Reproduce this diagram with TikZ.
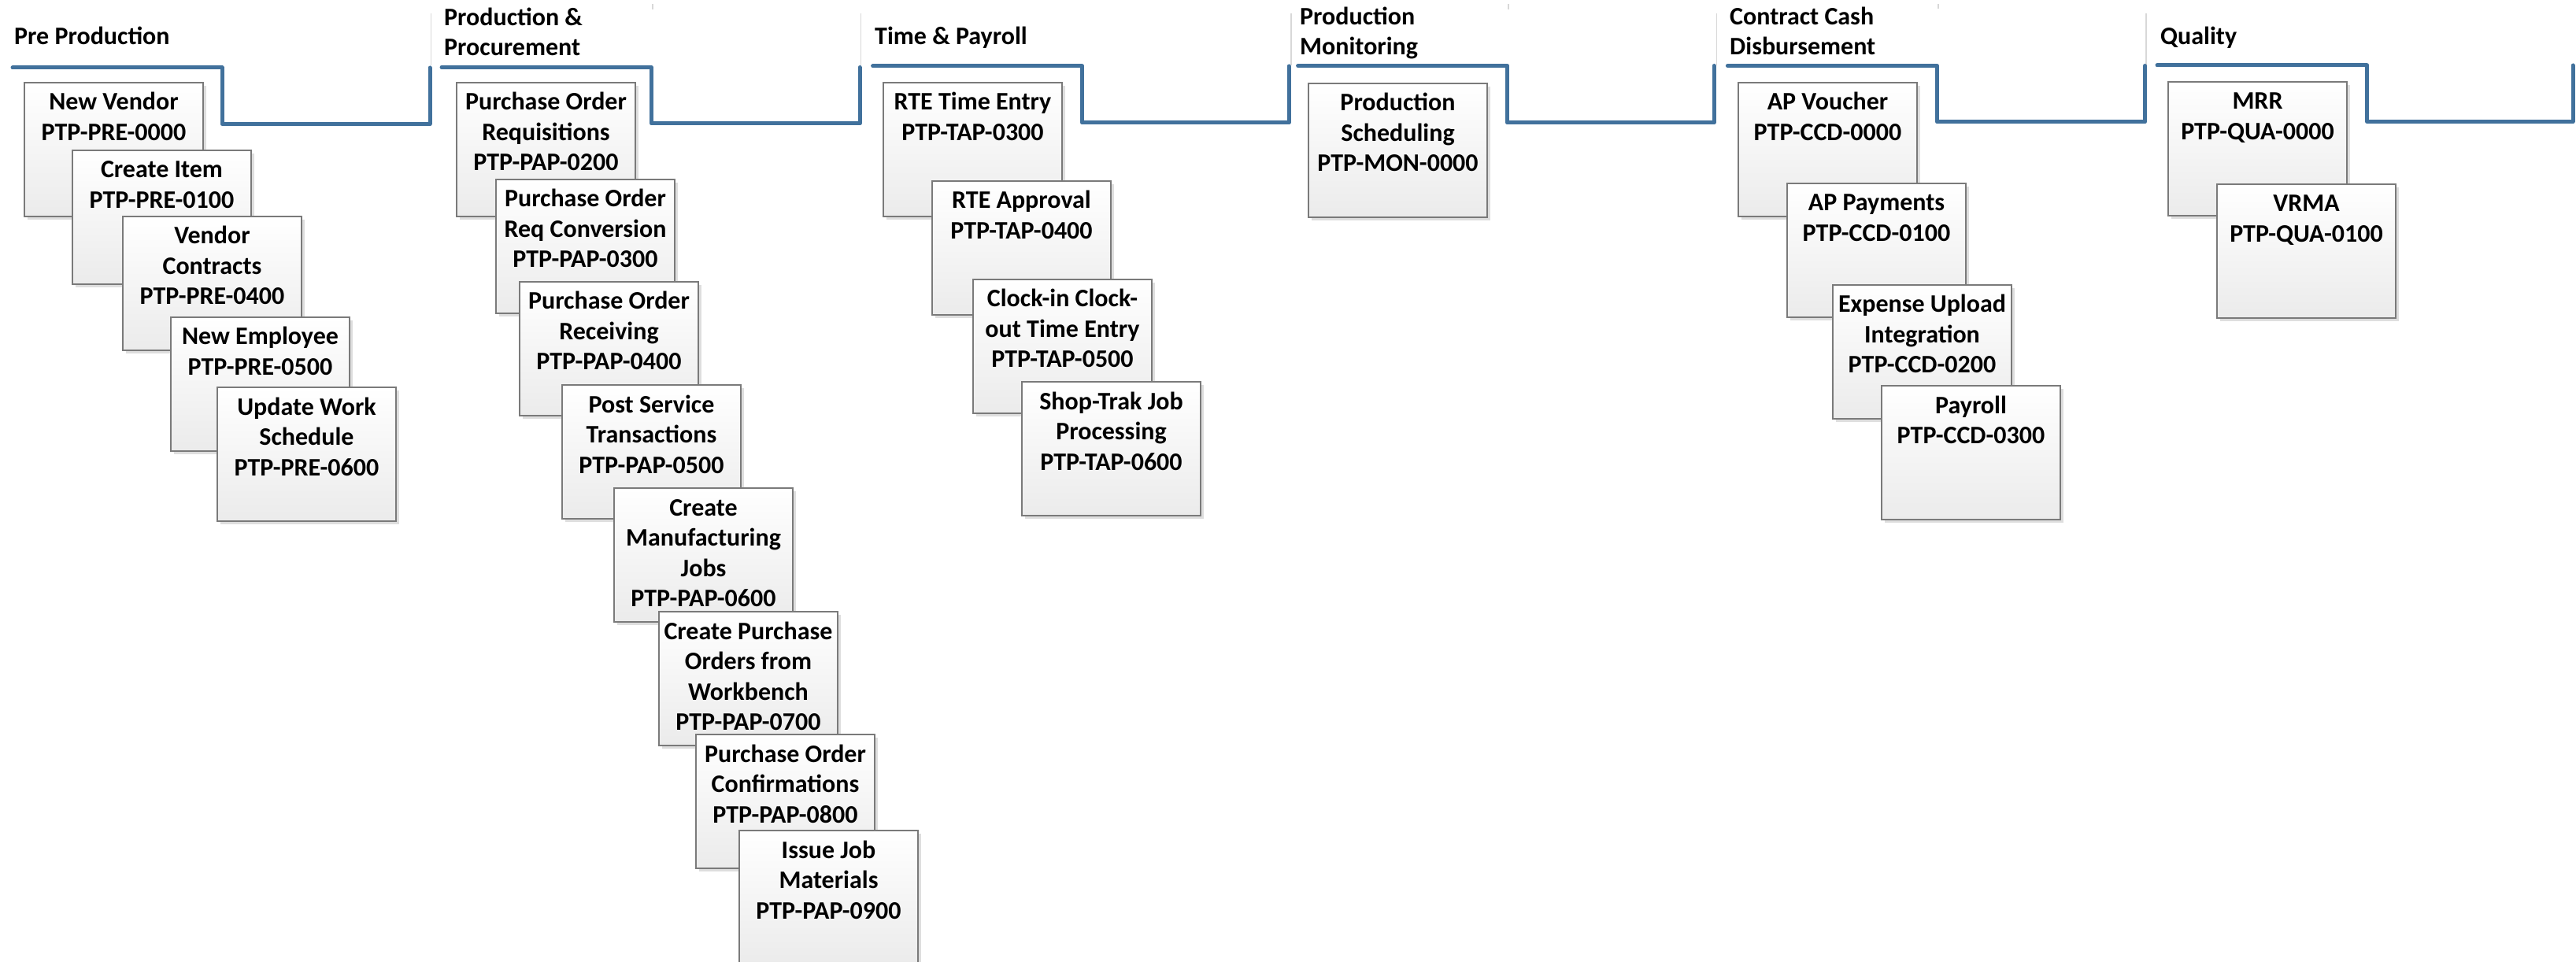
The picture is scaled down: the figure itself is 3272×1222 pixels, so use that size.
\documentclass[tikz,border=0pt]{standalone}
\usepackage{fontspec}
\setmainfont{Carlito}
\usetikzlibrary{shadows}
\definecolor{lineblue}{HTML}{41719C}
\definecolor{boxedge}{HTML}{7A7A7A}
\definecolor{boxbot}{HTML}{EBEBEB}
\definecolor{sepgray}{HTML}{D8D8D8}
\newcommand\procbox[4]{%
  \node[procnode] (#1) at (#2,#3) {\parbox[t][170pt][t]{227pt}{\bfseries\fontsize{32}{38.5}\selectfont\centering\rule{0pt}{35pt}#4}};}
\newcommand\sectitle[4]{%
  \node[titlenode] (#1) at (#2,0) {\rule{0pt}{#3pt}#4};}
\begin{document}
\begin{tikzpicture}[x=1pt,y=-1pt,
  every node/.style={font=\bfseries\fontsize{32}{38.5}\selectfont, text=black},
  procnode/.style={anchor=north west, inner sep=0pt, outer sep=0pt, draw=boxedge, line width=1.1pt,
    top color=white, bottom color=boxbot,
    drop shadow={fill=black, opacity=0.13, shadow xshift=4pt, shadow yshift=-4pt}},
  titlenode/.style={anchor=north west, inner sep=0pt, align=left},
  blueline/.style={draw=lineblue, line width=5pt, line cap=round, line join=round},
  sepline/.style={draw=sepgray, line width=1.5pt}]
\useasboundingbox (0,0) rectangle (3272,1222);
\clip (0,0) rectangle (3272,1222);

% section separators and ticks
\draw[sepline] (547.5,17) -- (547.5,83);
\draw[sepline] (1093.6,17) -- (1093.6,83);
\draw[sepline] (1640,17) -- (1640,83);
\draw[sepline] (2180.5,17) -- (2180.5,83);
\draw[sepline] (2726,17) -- (2726,83);
\draw[sepline] (829,5) -- (829,12);
\draw[sepline] (1916,5) -- (1916,12);
\draw[sepline] (2462,5) -- (2462,11);

% blue step lines
\draw[blueline] (16,86) -- (282,86) -- (282,157.5) -- (546,157.5) -- (546,86);
\draw[blueline] (561,85.5) -- (827.5,85.5) -- (827.5,157) -- (1092,157) -- (1092,85.5);
\draw[blueline] (1108.6,84) -- (1374.6,84) -- (1374.6,156) -- (1637,156) -- (1637,84);
\draw[blueline] (1648.6,83.5) -- (1914.6,83.5) -- (1914.6,156) -- (2177,156) -- (2177,83.5);
\draw[blueline] (2194.4,83.5) -- (2460.4,83.5) -- (2460.4,155) -- (2724.5,155) -- (2724.5,83.5);
\draw[blueline] (2740,83) -- (3006.5,83) -- (3006.5,154.5) -- (3268,154.5) -- (3268,83);

% titles
\sectitle{t0}{18}{56}{Pre Production}
\sectitle{t1}{564}{32}{Production \&\\Procurement}
\sectitle{t2}{1111}{56}{Time \& Payroll}
\sectitle{t3}{1651}{31}{Production\\Monitoring}
\sectitle{t4}{2197}{31}{Contract Cash\\Disbursement}
\sectitle{t5}{2744}{56}{Quality}

% Pre Production
\procbox{b01}{31}{105}{New Vendor\\PTP-PRE-0000}
\procbox{b02}{92}{191}{Create Item\\PTP-PRE-0100}
\procbox{b03}{156}{275}{Vendor\\Contracts\\PTP-PRE-0400}
\procbox{b04}{217}{403}{New Employee\\PTP-PRE-0500}
\procbox{b05}{276}{492}{Update Work\\Schedule\\PTP-PRE-0600}

% Production & Procurement
\procbox{b11}{580}{105}{Purchase Order\\Requisitions\\PTP-PAP-0200}
\procbox{b12}{630}{228}{Purchase Order\\Req Conversion\\PTP-PAP-0300}
\procbox{b13}{660}{358}{Purchase Order\\Receiving\\PTP-PAP-0400}
\procbox{b14}{714}{489}{Post Service\\Transactions\\PTP-PAP-0500}
\procbox{b15}{780}{620}{Create\\Manufacturing\\Jobs\\PTP-PAP-0600}
\procbox{b16}{837}{777}{Create Purchase\\Orders from\\Workbench\\PTP-PAP-0700}
\procbox{b17}{884}{933}{Purchase Order\\Confirmations\\PTP-PAP-0800}
\procbox{b18}{939}{1055}{Issue Job\\Materials\\PTP-PAP-0900}

% Time & Payroll
\procbox{b21}{1122}{105}{RTE Time Entry\\PTP-TAP-0300}
\procbox{b22}{1184}{230}{RTE Approval\\PTP-TAP-0400}
\procbox{b23}{1236}{355}{Clock-in Clock-\\out Time Entry\\PTP-TAP-0500}
\procbox{b24}{1298}{485}{Shop-Trak Job\\Processing\\PTP-TAP-0600}

% Production Monitoring
\procbox{b31}{1662}{106}{Production\\Scheduling\\PTP-MON-0000}

% Contract Cash Disbursement
\procbox{b41}{2208}{105}{AP Voucher\\PTP-CCD-0000}
\procbox{b42}{2270}{233}{AP Payments\\PTP-CCD-0100}
\procbox{b43}{2328}{362}{Expense Upload\\Integration\\PTP-CCD-0200}
\procbox{b44}{2390}{490}{Payroll\\PTP-CCD-0300}

% Quality
\procbox{b51}{2754}{104}{MRR\\PTP-QUA-0000}
\procbox{b52}{2816}{234}{VRMA\\PTP-QUA-0100}
\end{tikzpicture}
\end{document}
